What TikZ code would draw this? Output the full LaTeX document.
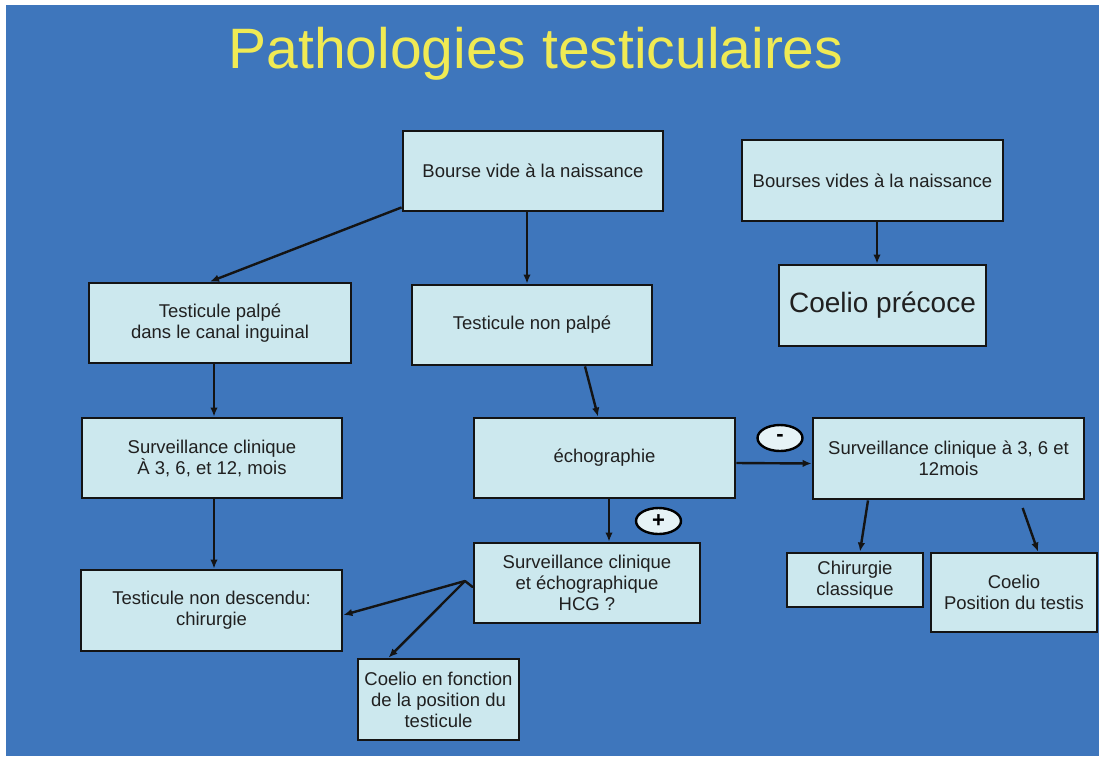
\documentclass[tikz,border=0pt]{standalone}
\usepackage{fontspec}
\setmainfont{Liberation Sans}
\usetikzlibrary{arrows.meta,shapes.geometric,calc}
\definecolor{bgblue}{RGB}{62,118,188}
\definecolor{boxfill}{RGB}{204,232,238}
\definecolor{titleyellow}{RGB}{240,234,84}
\definecolor{txt}{RGB}{32,32,32}
\begin{document}
\begin{tikzpicture}[x=1pt,y=-1pt,
  box/.style={draw=black!92, line width=2.8pt, fill=boxfill, text=txt, align=center, inner sep=0pt, font=\fontsize{18.5}{21}\selectfont},
  arr/.style={-{Latex[length=9pt,width=7.5pt]}, line width=2.4pt, black!92},
  sign/.style={ellipse, draw=black, line width=2.4pt, fill=boxfill!50!white, minimum width=45pt, minimum height=26pt, inner sep=0pt, text=black, font=\fontsize{22}{22}\selectfont\bfseries}]
\useasboundingbox (0,0) rectangle (1099,756);
\fill[white] (0,0) rectangle (1099,756);
\fill[bgblue] (6,5) rectangle (1099,756);

\node[anchor=base, text=titleyellow, font=\fontsize{57}{60}\selectfont] (title) at (536,68) {Pathologies testiculaires};

\node[box, minimum width=260pt, minimum height=80pt] (bv) at (533,171) {Bourse vide à la naissance};
\node[box, minimum width=261pt, minimum height=81pt] (bvs) at (872.5,180.5) {Bourses vides à la naissance};
\node[box, minimum width=207pt, minimum height=81pt, font=\fontsize{28}{30}\selectfont] (cp) at (882.5,305.5) {Coelio précoce};
\node[box, minimum width=262pt, minimum height=80pt] (tp) at (220,323) {Testicule palpé\\dans le canal inguinal};
\node[box, minimum width=240pt, minimum height=80pt] (tnp) at (532,325) {Testicule non palpé};
\node[box, minimum width=260pt, minimum height=80pt] (sc1) at (212,458) {Surveillance clinique\\À 3, 6, et 12, mois};
\node[box, minimum width=261pt, minimum height=80pt] (echo) at (604.5,458) {échographie};
\node[box, minimum width=271pt, minimum height=81pt] (sc2) at (948.5,458.5) {Surveillance clinique à 3, 6 et\\12mois};
\node[box, minimum width=136pt, minimum height=54pt] (chir) at (855,580) {Chirurgie\\classique};
\node[box, minimum width=166pt, minimum height=79pt] (coelpos) at (1014,592.5) {Coelio\\Position du testis};
\node[box, minimum width=226pt, minimum height=80pt] (sce) at (587,583) {Surveillance clinique\\et échographique\\HCG ?};
\node[box, minimum width=261pt, minimum height=81pt] (tnd) at (211.5,610.5) {Testicule non descendu:\\chirurgie};
\node[box, minimum width=161pt, minimum height=81pt] (cef) at (438.5,699.5) {Coelio en fonction\\de la position du\\testicule};

\node[sign] (plus) at (658.5,521) {+};
\node[sign] (minus) at (780,438) {-};

\coordinate (split) at (465,581);

\draw[arr] ([yshift=5pt]bv.south west) -- ([xshift=-10pt]tp.north);
\draw[arr] ([xshift=-6pt]bv.south) -- ([xshift=-5pt]tnp.north);
\draw[arr] ([xshift=4.5pt]bvs.south) -- ([xshift=-5.5pt]cp.north);
\draw[arr] ([xshift=-6pt]tp.south) -- ([xshift=2pt]sc1.north);
\draw[arr] ([xshift=53pt]tnp.south) -- ([xshift=-6.5pt]echo.north);
\draw[arr] ([xshift=2pt]sc1.south) -- ([xshift=2.5pt]tnd.north);
\draw[arr] ([yshift=-5pt]echo.east) -- ([yshift=-5pt]sc2.west);
\draw[arr] ([xshift=4.5pt]echo.south) -- ([xshift=22pt]sce.north);
\draw[line width=2.4pt, black!92, line cap=round] ([yshift=-4pt]sce.west) -- (split);
\draw[arr] (split) -- ([yshift=-4.5pt]tnd.east);
\draw[arr] (split) -- ([xshift=-50pt]cef.north);
\draw[arr] ([xshift=-80.5pt]sc2.south) -- ([xshift=5pt]chir.north);
\draw[arr, shorten <=8pt] ([xshift=71.5pt]sc2.south) -- ([xshift=24pt]coelpos.north);
\end{tikzpicture}
\end{document}
